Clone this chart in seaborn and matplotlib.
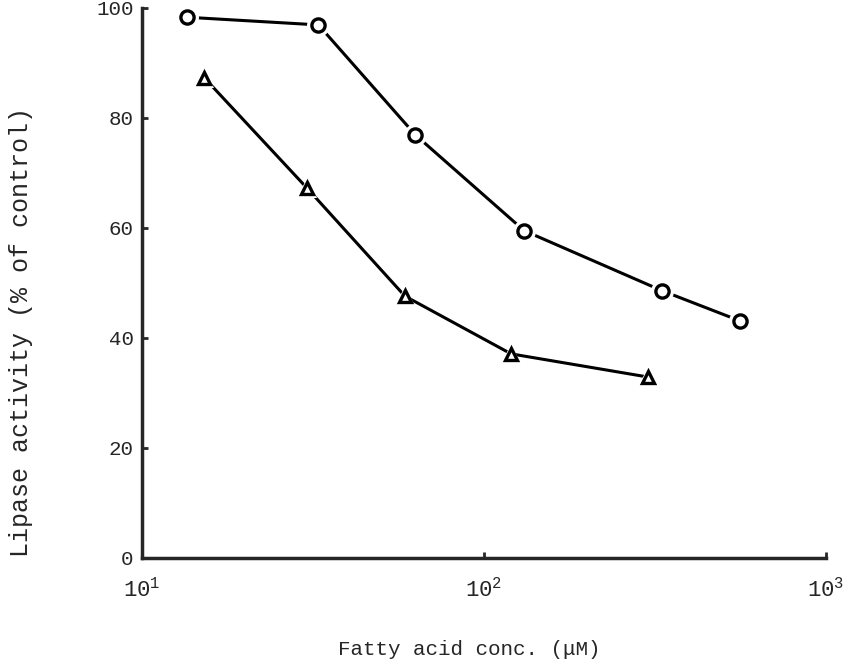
import matplotlib
matplotlib.use("Agg")
import matplotlib.pyplot as plt
import seaborn as sns
import pandas as pd

# Data
conc_circle = [13.5, 32.8, 63, 131, 331, 560]
act_circle = [98.3, 96.9, 76.9, 59.5, 48.6, 43.1]
conc_tri = [15.2, 30.3, 58.7, 120, 301]
act_tri = [87.3, 67.3, 47.6, 37.1, 32.9]

y_ticks = [0, 20, 40, 60, 80, 100]
x_ticks = [10, 100, 1000]
x_tick_labels = ["$10^{1}$", "$10^{2}$", "$10^{3}$"]

sns.set_style("ticks")
plt.rcParams["font.family"] = ["Liberation Mono", "DejaVu Sans Mono"]
plt.rcParams["mathtext.fontset"] = "custom"
plt.rcParams["mathtext.rm"] = "Liberation Mono"
plt.rcParams["mathtext.it"] = "Liberation Mono"

df_c = pd.DataFrame({"conc": conc_circle, "act": act_circle})
df_t = pd.DataFrame({"conc": conc_tri, "act": act_tri})

fig = plt.figure(figsize=(8.67, 6.66), dpi=100)
ax = fig.add_axes([0.1638, 0.1622, 0.789, 0.826])
ax.set_xscale("log")

for df, mk, ms in [(df_c, "o", 9.5), (df_t, "^", 8)]:
    sns.lineplot(data=df, x="conc", y="act", ax=ax, color="black",
                 linewidth=2.2, zorder=2)
    # white halo to create gaps between line and marker
    sns.lineplot(data=df, x="conc", y="act", ax=ax, linestyle="none",
                 marker=mk, markersize=ms + 7, markerfacecolor="white",
                 markeredgecolor="white", markeredgewidth=0, zorder=3)
    sns.lineplot(data=df, x="conc", y="act", ax=ax, linestyle="none",
                 marker=mk, markersize=ms, markerfacecolor="white",
                 markeredgecolor="black", markeredgewidth=2.4, zorder=4)

ax.set_xlim(10, 1000)
ax.set_ylim(0, 100)
ax.set_xticks(x_ticks)
ax.set_xticklabels(x_tick_labels, fontsize=16)
ax.minorticks_off()
ax.set_yticks(y_ticks)
ax.set_yticklabels([str(v) for v in y_ticks], fontsize=15)
ax.tick_params(direction="in", length=4, width=2, pad=6)
ax.tick_params(axis="x", pad=14)

for s in ["top", "right"]:
    ax.spines[s].set_visible(False)
for s in ["left", "bottom"]:
    ax.spines[s].set_linewidth(2.5)

ax.set_xlabel("Fatty acid conc. (\u03bcM)", fontsize=15)
ax.set_ylabel("Lipase activity (% of control)", fontsize=18)
ax.xaxis.set_label_coords(0.478, -0.150)
ax.yaxis.set_label_coords(-0.160, 0.41)

fig.savefig("out.png", dpi=100)
